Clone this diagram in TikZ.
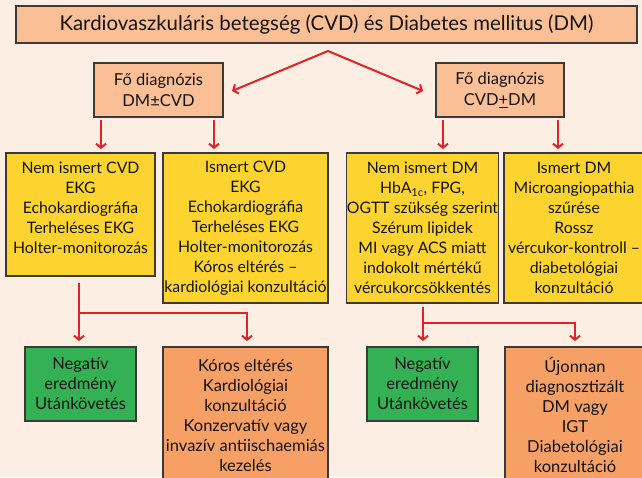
\documentclass[tikz,border=0pt]{standalone}
\usepackage{fontspec}
\setmainfont{Lato}
\usetikzlibrary{arrows.meta}
\definecolor{bgc}{HTML}{FCEEE2}
\definecolor{salm}{HTML}{FBBF96}
\definecolor{yel}{HTML}{FDD42F}
\definecolor{grn}{HTML}{35B155}
\definecolor{org}{HTML}{F6A066}
\definecolor{redc}{HTML}{E32228}
\definecolor{bord}{HTML}{3A3A3A}
\tikzset{
  box/.style={draw=bord, line width=1.1pt, inner sep=0pt, outer sep=0pt, align=center,
    text=black!92, font=\fontsize{15.8}{20}\selectfont},
  conn/.style={draw=redc, line width=2pt},
  arr/.style={conn, -{Straight Barb[length=4pt,width=10pt,line width=2pt]}},
}
\begin{document}
\begin{tikzpicture}[x=1pt,y=-1pt]
\useasboundingbox (0,0) rectangle (642,477);
\clip (0,0) rectangle (642,477);
\fill[bgc] (0,0) rectangle (642,477);

\node[box, fill=salm, minimum width=621pt, minimum height=37pt, font=\fontsize{20.4}{24}\selectfont] (top) at (326.5,24.5)
  {Kardiovaszkuláris betegség (CVD) és Diabetes mellitus (DM)};

\node[box, fill=salm, minimum width=129pt, minimum height=54pt, font=\fontsize{16.5}{21}\selectfont] (fo1) at (158.5,90)
  {Fő diagnózis\\DM±CVD};
\node[box, fill=salm, minimum width=128pt, minimum height=54pt, font=\fontsize{16.5}{21}\selectfont] (fo2) at (500,90)
  {Fő diagnózis\\CVD\underline{+}DM};

\node[box, fill=yel, minimum width=149pt, minimum height=123pt] (b1) at (80.5,214.5)
  {Nem ismert CVD\\EKG\\Echokardiográfia\\Terheléses EKG\\Holter-monitorozás\\[-7pt]\mbox{}};
\node[box, fill=yel, minimum width=165pt, minimum height=150pt] (b2) at (245.5,228)
  {Ismert CVD\\EKG\\Echokardiográfia\\Terheléses EKG\\Holter-monitorozás\\Kóros eltérés --\\kardiológiai konzultáció};
\node[box, fill=yel, minimum width=149pt, minimum height=150pt] (b3) at (422.5,228)
  {Nem ismert DM\\HbA\textsubscript{1c}, FPG,\\OGTT szükség szerint\\Szérum lipidek\\MI vagy ACS miatt\\indokolt mértékű\\vércukorcsökkentés};
\node[box, fill=yel, minimum width=140pt, minimum height=150pt] (b4) at (574,228)
  {Ismert DM\\Microangiopathia\\szűrése\\Rossz\\vércukor-kontroll --\\diabetológiai\\konzultáció};

\node[box, fill=grn, minimum width=111pt, minimum height=74pt, font=\fontsize{16.5}{20}\selectfont] (g1) at (80.5,384)
  {Negatív\\eredmény\\Utánkövetés};
\node[box, fill=org, minimum width=165pt, minimum height=136pt, font=\fontsize{16.5}{20}\selectfont] (o1) at (245.5,415)
  {Kóros eltérés\\Kardiológiai\\konzultáció\\Konzervatív vagy\\invazív antiischaemiás\\kezelés};
\node[box, fill=grn, minimum width=111pt, minimum height=74pt, font=\fontsize{16.5}{20}\selectfont] (g2) at (422.5,384)
  {Negatív\\eredmény\\Utánkövetés};
\node[box, fill=org, minimum width=140pt, minimum height=136pt, font=\fontsize{16.5}{20}\selectfont] (o2) at (575,415)
  {Újonnan\\diagnosztizált\\DM vagy\\IGT\\Diabetológiai\\konzultáció};

% top split
\coordinate (apex) at (328,51);
\coordinate (e1) at (232,91);
\coordinate (e2) at (423,91);
\draw[arr] (apex) -- (e1);
\draw[arr] (apex) -- (e2);

% down arrows
\draw[arr, shorten <=3pt, shorten >=4pt] ([xshift=-57.5pt]fo1.south) -- ([xshift=-57.5pt]fo1.south |- b1.north);
\draw[arr, shorten <=3pt, shorten >=4pt] ([xshift=55.5pt]fo1.south) -- ([xshift=55.5pt]fo1.south |- b2.north);
\draw[arr, shorten <=3pt, shorten >=4pt] ([xshift=-57pt]fo2.south) -- ([xshift=-57pt]fo2.south |- b3.north);
\draw[arr, shorten <=3pt, shorten >=4pt] ([xshift=58pt]fo2.south) -- ([xshift=58pt]fo2.south |- b4.north);

% left branch
\coordinate (j1) at (79,313);
\draw[conn, shorten <=7pt] (b1.south -| j1) -- (j1);
\draw[arr, shorten >=6pt] (j1) -- (g1.north -| j1);
\draw[arr, shorten >=6pt] (j1) -| ([xshift=1.5pt]o1.north);

% right branch
\coordinate (j2) at (423,323);
\draw[conn, shorten <=4pt] (b3.south -| j2) -- (j2);
\draw[arr, shorten >=6pt] (j2) -- (g2.north -| j2);
\draw[arr, shorten >=6pt] (j2) -| (o2.north);
\end{tikzpicture}
\end{document}
